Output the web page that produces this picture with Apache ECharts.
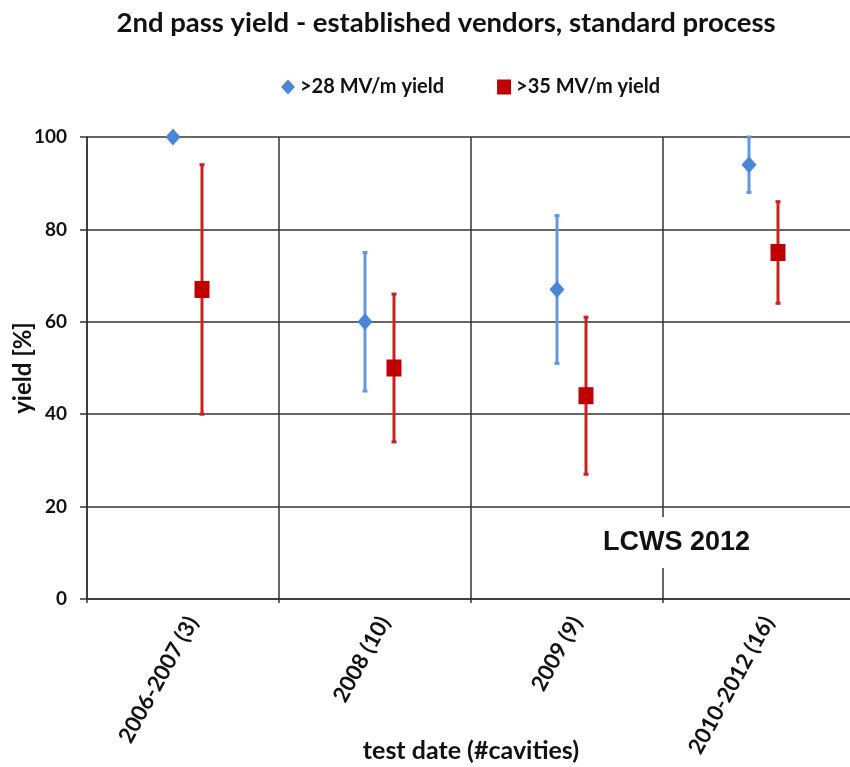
<!DOCTYPE html>
<html>
<head>
<meta charset="utf-8">
<script src="https://cdn.jsdelivr.net/npm/echarts@6/dist/echarts.min.js"></script>
<style>html,body{margin:0;padding:0;background:#fff}#c{width:850px;height:767px}</style>
</head>
<body>
<div id="c"></div>
<script>
var categories = ['2006-2007 (3)', '2008 (10)', '2009 (9)', '2010-2012 (16)'];
var yieldTicks = [0, 20, 40, 60, 80, 100];
var y28 = [100, 60, 67, 94];
var y28Low = [100, 45, 51, 88];
var y28High = [100, 75, 83, 100];
var y35 = [67, 50, 44, 75];
var y35Low = [40, 34, 27, 64];
var y35High = [94, 66, 61, 86];

var BLUE = '#4a86d6', BLUE_BAR = '#6199de';
var RED = '#c00000', RED_BAR = '#cc2020';
var OFF28 = -10, OFF35 = 19;
var CAT = 'Lato, "Open Sans", sans-serif';

function errData(lo, hi) {
  return lo.map(function (v, i) { return [i, v, hi[i]]; });
}
function errRender(offset, color) {
  return function (params, api) {
    var lo = api.coord([api.value(0), api.value(1)]);
    var hi = api.coord([api.value(0), api.value(2)]);
    var x = lo[0] + offset;
    if (Math.abs(lo[1] - hi[1]) < 1) return null;
    var st = { stroke: color, lineWidth: 3 };
    return {
      type: 'group',
      children: [
        { type: 'line', shape: { x1: x, y1: lo[1], x2: x, y2: hi[1] }, style: st },
        { type: 'line', shape: { x1: x - 2.5, y1: lo[1], x2: x + 2.5, y2: lo[1] }, style: st },
        { type: 'line', shape: { x1: x - 2.5, y1: hi[1], x2: x + 2.5, y2: hi[1] }, style: st }
      ]
    };
  };
}

var chart = echarts.init(document.getElementById('c'));
chart.setOption({
  animation: false,
  backgroundColor: '#fff',
  title: {
    text: '2nd pass yield - established vendors, standard process',
    left: 441, textAlign: 'center', top: 4,
    textStyle: { fontFamily: CAT, fontWeight: 'bold', fontSize: 27.5, color: '#111' }
  },
  legend: {
    left: 276, top: 72, itemGap: 53, itemWidth: 14, itemHeight: 15,
    textStyle: { fontFamily: CAT, fontWeight: 'bold', fontSize: 20, color: '#111' },
    data: [
      { name: '>28 MV/m yield', icon: 'diamond', itemStyle: { color: BLUE } },
      { name: '>35 MV/m yield', icon: 'rect', itemStyle: { color: RED } }
    ]
  },
  grid: { left: 87, top: 137, width: 768, height: 462, outerBoundsMode: 'none', containLabel: false },
  xAxis: {
    type: 'category', data: categories, boundaryGap: true,
    name: 'test date (#cavities)', nameLocation: 'middle', nameGap: 139, nameMoveOverlap: false,
    nameTextStyle: { fontFamily: CAT, fontWeight: 'bold', fontSize: 25, color: '#111' },
    axisLine: { lineStyle: { color: '#333', width: 1.5 } },
    axisTick: { show: true, interval: 0, length: 4, lineStyle: { color: '#333', width: 1.5 } },
    splitLine: { show: true, interval: 0, lineStyle: { color: '#333', width: 1.5 } },
    axisLabel: { interval: 0, rotate: 61, margin: 14, verticalAlign: 'top', fontFamily: CAT, fontWeight: 'bold', fontSize: 22, color: '#111' }
  },
  yAxis: {
    type: 'value', min: 0, max: 100, interval: 20,
    name: 'yield [%]', nameLocation: 'middle', nameGap: 52, nameRotate: 90, nameMoveOverlap: false,
    nameTextStyle: { fontFamily: CAT, fontWeight: 'bold', fontSize: 24, color: '#111' },
    axisLine: { show: true, lineStyle: { color: '#333', width: 1.5 } },
    axisTick: { show: true, length: 7, lineStyle: { color: '#333', width: 1.5 } },
    splitLine: { show: true, lineStyle: { color: '#333', width: 1.5 } },
    axisLabel: { margin: 20, fontFamily: CAT, fontWeight: 'bold', fontSize: 19, color: '#111',
      formatter: function (v) { return yieldTicks.indexOf(v) >= 0 ? String(v) : ''; } }
  },
  series: [
    { type: 'custom', name: 'err28', data: errData(y28Low, y28High), renderItem: errRender(OFF28, BLUE_BAR), z: 3, silent: true },
    { type: 'custom', name: 'err35', data: errData(y35Low, y35High), renderItem: errRender(OFF35, RED_BAR), z: 3, silent: true },
    { type: 'scatter', name: '>28 MV/m yield', data: y28, symbol: 'diamond', symbolSize: [15, 17], symbolOffset: [OFF28, 0],
      itemStyle: { color: BLUE, opacity: 1 }, z: 5 },
    { type: 'scatter', name: '>35 MV/m yield', data: y35, symbol: 'rect', symbolSize: [15, 17], symbolOffset: [OFF35, 0],
      itemStyle: { color: RED, opacity: 1 }, z: 5 }
  ],
  graphic: [{
    type: 'text', left: 595, top: 517, z: 10,
    style: { text: 'LCWS 2012', fontFamily: '"Liberation Sans", Arial, sans-serif', fontWeight: 'bold', fontSize: 27,
      fill: '#111', backgroundColor: '#fff', padding: [12, 8, 12, 8] }
  }]
});
</script>
</body>
</html>
